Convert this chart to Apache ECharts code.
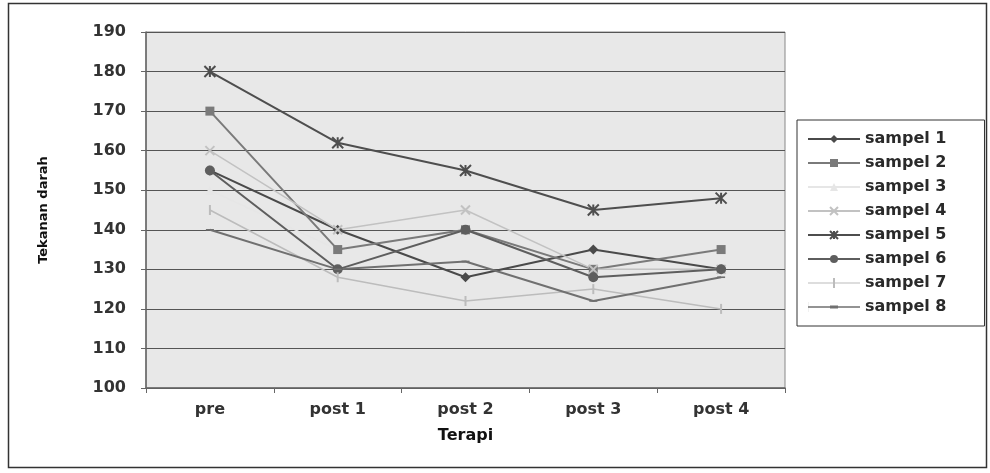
<!DOCTYPE html>
<html>
<head>
<meta charset="utf-8">
<script src="https://cdn.jsdelivr.net/npm/echarts@6/dist/echarts.min.js"></script>
<style>
  html, body { margin: 0; padding: 0; background: #fff; }
  #chart { width: 990px; height: 473px; }
</style>
</head>
<body>
<div id="chart"></div>
<script>
// data
const categories = ['pre', 'post 1', 'post 2', 'post 3', 'post 4']
const seriesNames = ['sampel 1', 'sampel 2', 'sampel 3', 'sampel 4', 'sampel 5', 'sampel 6', 'sampel 7', 'sampel 8']
const sampel1 = [155, 140, 128, 135, 130]
const sampel2 = [170, 135, 140, 130, 135]
const sampel3 = [150, 135, 140, 130, 130]
const sampel4 = [160, 140, 145, 130, 130]
const sampel5 = [180, 162, 155, 145, 148]
const sampel6 = [155, 130, 140, 128, 130]
const sampel7 = [145, 128, 122, 125, 120]
const sampel8 = [140, 130, 132, 122, 128]
const yTicks = { min: 100, max: 190, interval: 10 }

const allData = [sampel1, sampel2, sampel3, sampel4, sampel5, sampel6, sampel7, sampel8]

// grey-scale look of the old spreadsheet print
const styles = [
  { color: '#4a4a4a', symbol: 'diamond', size: 10, width: 2 },
  { color: '#7a7a7a', symbol: 'rect', size: 9, width: 2 },
  { color: '#e6e6e6', symbol: 'triangle', size: 9, width: 1.5 },
  { color: '#c2c2c2', symbol: 'path://M0,0L10,10M10,0L0,10', size: 9, width: 1.5, stroke: true },
  { color: '#4e4e4e', symbol: 'path://M0,0L10,10M10,0L0,10M5,0L5,10', size: 11, width: 2, stroke: true },
  { color: '#5e5e5e', symbol: 'circle', size: 10, width: 2 },
  { color: '#bcbcbc', symbol: 'path://M4,0L6,0L6,10L4,10Z', size: 10, width: 1.5, keep: true,
    icon: 'path://M0,4.4L52,4.4L52,5.6L0,5.6Z M25,0L27,0L27,10L25,10Z' },
  { color: '#707070', symbol: 'path://M0,4L10,4L10,6L0,6Z', size: 8, width: 2, keep: true,
    icon: 'path://M0,0L0.1,0L0.1,10L0,10Z M0,4.3L52,4.3L52,5.7L0,5.7Z M22,3.6L30,3.6L30,6.4L22,6.4Z' }
]

const series = seriesNames.map((name, i) => {
  const s = styles[i]
  return {
    name: name,
    type: 'line',
    data: allData[i],
    symbol: s.symbol,
    symbolSize: s.size,
    symbolKeepAspect: !!s.keep,
    showSymbol: true,
    lineStyle: { color: s.color, width: s.width },
    itemStyle: s.stroke
      ? { color: s.color, borderColor: s.color, borderWidth: 2 }
      : { color: s.color },
    emphasis: { disabled: true },
    animation: false,
    z: i === 2 ? 1 : 2
  }
})

const legendData = seriesNames.map((name, i) => {
  return styles[i].icon ? { name: name, icon: styles[i].icon } : { name: name }
})

const font = '"DejaVu Sans", Arial, sans-serif'

const chart = echarts.init(document.getElementById('chart'))
chart.setOption({
  animation: false,
  backgroundColor: '#fff',
  graphic: [
    {
      type: 'rect',
      shape: { x: 8.5, y: 3.5, width: 978, height: 464 },
      style: { fill: 'none', stroke: '#333', lineWidth: 1.5 },
      z: -1
    }
  ],
  grid: {
    left: 146,
    right: 205,
    top: 32,
    bottom: 85,
    show: true,
    backgroundColor: '#e8e8e8',
    borderColor: '#888',
    borderWidth: 1
  },
  legend: {
    orient: 'vertical',
    left: 797,
    top: 120,
    data: legendData,
    itemWidth: 52,
    itemHeight: 10,
    itemGap: 8,
    padding: [11, 38, 11, 10],
    borderColor: '#333',
    borderWidth: 1,
    backgroundColor: '#fff',
    textStyle: { fontFamily: font, fontSize: 16, color: '#2a2a2a', fontWeight: 'bold' }
  },
  xAxis: {
    type: 'category',
    data: categories,
    boundaryGap: true,
    name: 'Terapi',
    nameLocation: 'middle',
    nameGap: 40,
    nameTextStyle: { fontFamily: font, fontSize: 16, fontWeight: 'bold', color: '#111' },
    axisLine: { lineStyle: { color: '#666', width: 1.5 } },
    axisTick: { show: true, length: 5, lineStyle: { color: '#666' } },
    axisLabel: { fontFamily: font, fontSize: 16, fontWeight: 'bold', color: '#333', margin: 14 },
    splitLine: { show: false }
  },
  yAxis: {
    type: 'value',
    min: yTicks.min,
    max: yTicks.max,
    interval: yTicks.interval,
    name: 'Tekanan darah',
    nameLocation: 'middle',
    nameGap: 96,
    nameTextStyle: { fontFamily: font, fontSize: 13, fontWeight: 'bold', color: '#111' },
    axisLine: { show: true, lineStyle: { color: '#666', width: 1.5 } },
    axisTick: { show: true, length: 5, lineStyle: { color: '#666' } },
    axisLabel: { fontFamily: font, fontSize: 16, fontWeight: 'bold', color: '#333', margin: 20 },
    splitLine: { show: true, lineStyle: { color: '#555', width: 1.2 } }
  },
  series: series
})
</script>
</body>
</html>
